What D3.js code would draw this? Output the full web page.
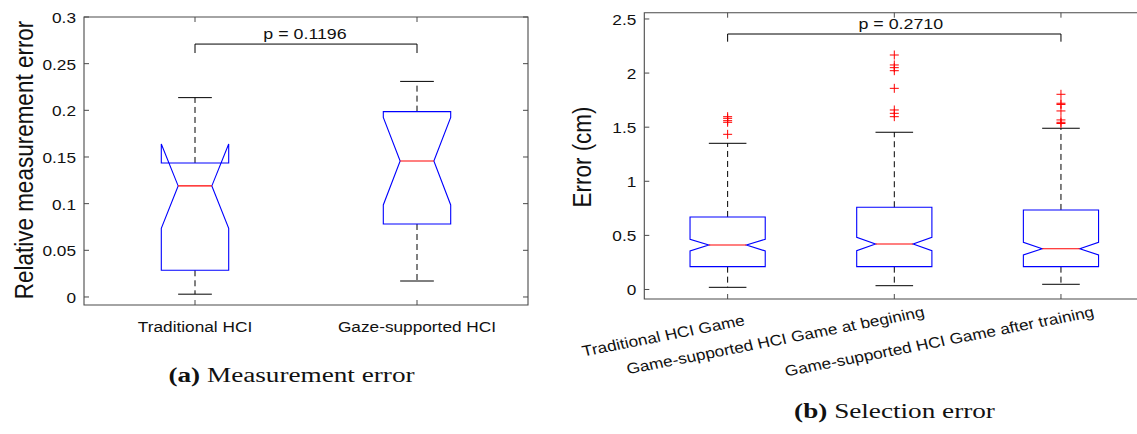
<!DOCTYPE html>
<html>
<head>
<meta charset="utf-8">
<script src="https://cdn.jsdelivr.net/npm/d3@7"></script>
<style>
  body { margin: 0; background: #fff; }
  text { font-family: "Liberation Sans", Arial, Helvetica, sans-serif; fill: #111; }
  text.cap { font-family: "Liberation Serif", "Times New Roman", serif; font-size: 20px; }
</style>
</head>
<body>
<svg id="fig" width="1137" height="434"></svg>
<script>
// ---- (a) Measurement error ----
const catsA = ["Traditional HCI", "Gaze-supported HCI"];
const q1A = [0.0286, 0.0782];
const medA = [0.119, 0.1457];
const q3A = [0.1436, 0.1986];
const notchLoA = [0.0736, 0.0986];
const notchHiA = [0.164, 0.1925];
const whiskLoA = [0.003, 0.0171];
const whiskHiA = [0.2136, 0.231];
const outA = [[], []];
const ticksA = [0, 0.05, 0.1, 0.15, 0.2, 0.25, 0.3];
const tickLabelsA = ["0", "0.05", "0.1", "0.15", "0.2", "0.25", "0.3"];
const pA = "p = 0.1196";

// ---- (b) Selection error ----
const catsB = ["Traditional HCI Game", "Game-supported HCI Game at begining", "Game-supported HCI Game after training"];
const q1B = [0.211, 0.211, 0.211];
const medB = [0.411, 0.421, 0.377];
const q3B = [0.670, 0.760, 0.735];
const notchLoB = [0.356, 0.359, 0.319];
const notchHiB = [0.464, 0.482, 0.436];
const whiskLoB = [0.020, 0.035, 0.048];
const whiskHiB = [1.351, 1.453, 1.490];
const outB = [
  [1.434, 1.545, 1.560, 1.582, 1.597],
  [1.597, 1.628, 1.659, 1.859, 2.022, 2.050, 2.075, 2.167],
  [1.534, 1.545, 1.567, 1.650, 1.710, 1.721, 1.804]
];
const ticksB = [0, 0.5, 1, 1.5, 2, 2.5];
const tickLabelsB = ["0", "0.5", "1", "1.5", "2", "2.5"];
const pB = "p = 0.2710";

const SX = 1.15;      // the figure is slightly stretched horizontally
const svg = d3.select("#fig");

function label(g, x, y, s, anchor, size, extra) {
  return g.append("text")
    .attr("transform", `translate(${x},${y}) scale(${SX},1)` + (extra || ""))
    .attr("text-anchor", anchor)
    .style("font-size", size + "px")
    .text(s);
}

function panel(o) {
  const g = svg.append("g");
  const x = d3.scaleLinear().domain(o.xDomain).range(o.xRange);
  const y = d3.scaleLinear().domain(o.yDomain).range(o.yRange);
  const [x0, x1] = o.xRange, [y0, y1] = o.yRange; // y0 bottom, y1 top

  // axes box
  g.append("path")
    .attr("d", `M${x1},${y1}H${x0}V${y0}H${x1}` + (o.rightAxis ? "Z" : ""))
    .attr("fill", "none").attr("stroke", "#4a4a4a").attr("stroke-width", 1.1);

  // y ticks (inward, both sides)
  o.ticks.forEach((t, i) => {
    g.append("line").attr("x1", x0).attr("x2", x0 + 5).attr("y1", y(t)).attr("y2", y(t))
      .attr("stroke", "#4a4a4a");
    if (o.rightAxis)
      g.append("line").attr("x1", x1 - 5).attr("x2", x1).attr("y1", y(t)).attr("y2", y(t))
        .attr("stroke", "#4a4a4a");
    label(g, x0 - 8, y(t) + 6, o.tickLabels[i], "end", 15);
  });

  // x ticks top and bottom
  o.cats.forEach((c, i) => {
    const cx = x(i + 1);
    g.append("line").attr("x1", cx).attr("x2", cx).attr("y1", y0).attr("y2", y0 - 5).attr("stroke", "#4a4a4a");
    g.append("line").attr("x1", cx).attr("x2", cx).attr("y1", y1).attr("y2", y1 + 5).attr("stroke", "#4a4a4a");
  });

  // boxes
  o.cats.forEach((c, i) => {
    const cx = x(i + 1), hw = o.halfW, L = cx - hw, R = cx + hw, iL = cx - hw / 2, iR = cx + hw / 2;
    // whiskers
    g.append("line").attr("x1", cx).attr("x2", cx).attr("y1", y(o.q3[i])).attr("y2", y(o.wHi[i]))
      .attr("stroke", "#000").attr("stroke-dasharray", "6,4");
    g.append("line").attr("x1", cx).attr("x2", cx).attr("y1", y(o.q1[i])).attr("y2", y(o.wLo[i]))
      .attr("stroke", "#000").attr("stroke-dasharray", "6,4");
    [o.wHi[i], o.wLo[i]].forEach(v => {
      g.append("line").attr("x1", cx - hw / 2).attr("x2", cx + hw / 2).attr("y1", y(v)).attr("y2", y(v))
        .attr("stroke", "#000");
    });
    const pts = [[L, o.q1[i]], [L, o.nLo[i]], [iL, o.med[i]], [L, o.nHi[i]], [L, o.q3[i]],
                 [R, o.q3[i]], [R, o.nHi[i]], [iR, o.med[i]], [R, o.nLo[i]], [R, o.q1[i]]];
    g.append("path")
      .attr("d", d3.line().x(d => d[0]).y(d => y(d[1]))(pts) + "Z")
      .attr("fill", "none").attr("stroke", "#0000ff").attr("stroke-width", 1.1);
    g.append("line").attr("x1", iL).attr("x2", iR).attr("y1", y(o.med[i])).attr("y2", y(o.med[i]))
      .attr("stroke", "#ff0000").attr("stroke-width", 1.1);
    o.out[i].forEach(v => {
      g.append("path")
        .attr("d", `M${cx - 4.5},${y(v)}H${cx + 4.5}M${cx},${y(v) - 4.5}V${y(v) + 4.5}`)
        .attr("stroke", "#ff0000").attr("stroke-width", 1);
    });
  });

  // significance bracket
  const bx0 = x(1), bx1 = x(o.cats.length), by = y(o.bracket[0]), bd = y(o.bracket[1]);
  g.append("path").attr("d", `M${bx0},${bd}V${by}H${bx1}V${bd}`)
    .attr("fill", "none").attr("stroke", "#000");
  label(g, (bx0 + bx1) / 2 + o.pShift, by - 5.5, o.p, "middle", 15.5);

  // y label
  g.append("text")
    .attr("transform", `translate(${o.yLab[0]},${o.yLab[1]}) scale(${SX},1) rotate(-90)`)
    .attr("text-anchor", "middle").style("font-size", "22.5px").text(o.yTitle);
  return { g, x, y };
}

// panel (a)
const A = panel({
  cats: catsA, q1: q1A, med: medA, q3: q3A, nLo: notchLoA, nHi: notchHiA,
  wLo: whiskLoA, wHi: whiskHiA, out: outA,
  ticks: ticksA, tickLabels: tickLabelsA,
  xDomain: [0.5, 2.5], xRange: [84, 528], yDomain: [-0.0086, 0.3], yRange: [305, 17],
  halfW: 33.7, rightAxis: true, bracket: [0.271, 0.2614], p: pA, pShift: -1,
  yTitle: "Relative measurement error", yLab: [33, 160]
});
catsA.forEach((c, i) => label(A.g, A.x(i + 1), 331.5, c, "middle", 15));
A.g.append("text").attr("class", "cap")
  .attr("transform", `translate(291.5,381.5) scale(1.36,1)`).attr("text-anchor", "middle")
  .call(t => { t.append("tspan").style("font-weight", "bold").text("(a)"); t.append("tspan").text(" Measurement error"); });

// panel (b)
const B = panel({
  cats: catsB, q1: q1B, med: medB, q3: q3B, nLo: notchLoB, nHi: notchHiB,
  wLo: whiskLoB, wHi: whiskHiB, out: outB,
  ticks: ticksB, tickLabels: tickLabelsB,
  xDomain: [0.5, 3.5], xRange: [644.3, 1144.3], yDomain: [-0.088, 2.558], yRange: [299, 12.7],
  halfW: 37.6, rightAxis: false, bracket: [2.361, 2.29], p: pB, pShift: 6.5,
  yTitle: "Error (cm)", yLab: [591, 157]
});
const nudgeB = [[-13, 8.5], [0, 0], [3, 0]];
catsB.forEach((c, i) => {
  label(B.g, B.x(i + 1) + 31 + nudgeB[i][0], 316.5 + nudgeB[i][1], c, "end", 15, " rotate(-12.6)");
});
B.g.append("text").attr("class", "cap")
  .attr("transform", `translate(894.5,418) scale(1.36,1)`).attr("text-anchor", "middle")
  .call(t => { t.append("tspan").style("font-weight", "bold").text("(b)"); t.append("tspan").text(" Selection error"); });
</script>
</body>
</html>
